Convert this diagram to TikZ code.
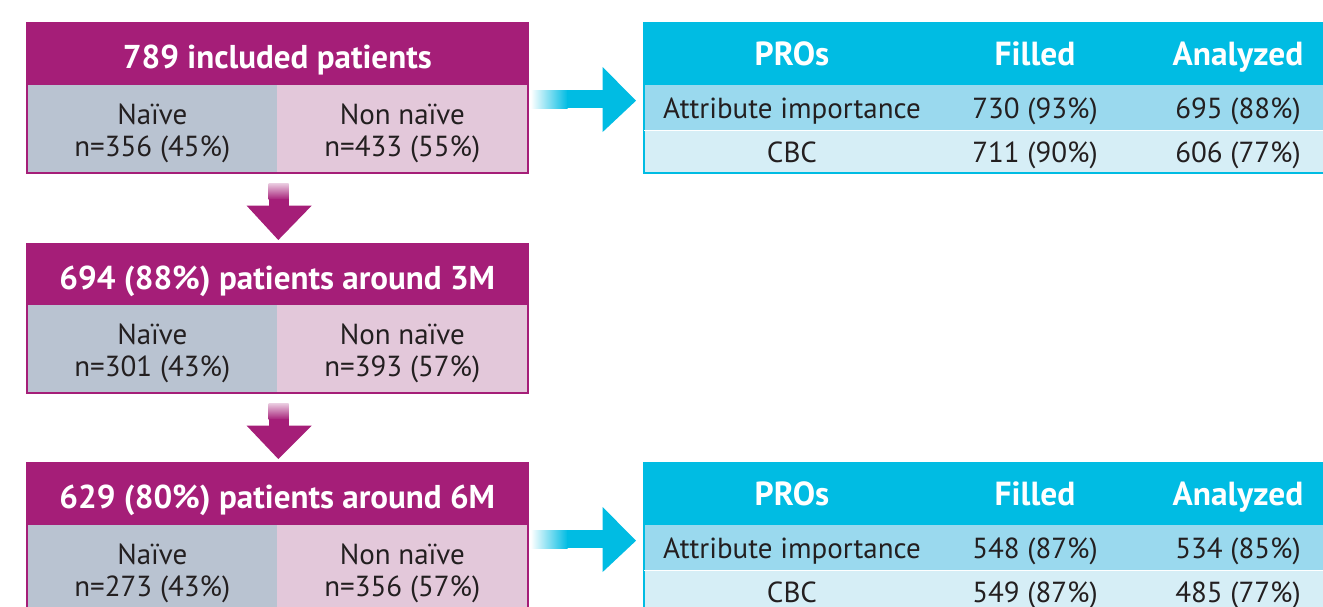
\documentclass[tikz,border=0pt]{standalone}
\usepackage{fontspec}
\setmainfont{PT Sans}
\usetikzlibrary{positioning,calc}

\definecolor{plum}{HTML}{A51E78}
\definecolor{naivecol}{HTML}{B9C3D1}
\definecolor{nonnaivecol}{HTML}{E3C8DA}
\definecolor{cyanhead}{HTML}{00BCE3}
\definecolor{rowone}{HTML}{9AD9EE}
\definecolor{rowtwo}{HTML}{D6EEF6}
\definecolor{inkcol}{HTML}{231F20}

\begin{document}
\begin{tikzpicture}[x=0.02cm,y=-0.02cm,
    headbox/.style={fill=plum, text=white, font=\bfseries\fontsize{18.8}{22}\selectfont,
        minimum width=10cm, minimum height=1.24cm, anchor=north west, inner sep=0pt,
        text height=0.56cm, text depth=0cm},
    cellbox/.style={minimum width=5cm, minimum height=1.74cm, anchor=north west, inner sep=0pt},
    celltext/.style={align=center, text=inkcol, inner sep=0pt, font=\fontsize{16.5}{18.2}\selectfont},
    tabrow/.style={minimum width=13.8cm, anchor=north west, inner sep=0pt},
    tabhead/.style={anchor=base, text=white, font=\bfseries\fontsize{19}{22}\selectfont},
    tabtext/.style={anchor=base, text=inkcol, font=\fontsize{16.5}{19}\selectfont}]

    \clip (0,0) rectangle (1323,606);

    % Patient boxes
    \node[headbox] (h1) at (27,23) {789 included patients};
    \node[cellbox, fill=naivecol] (n1) at (27,85) {};
    \node[cellbox, fill=nonnaivecol] (m1) at (277,85) {};
    \node[celltext] (n1t) at ($(n1)+(0,5)$) {Naïve\\n=356 (45\%)};
    \node[celltext] (m1t) at ($(m1)+(0,5)$) {Non naïve\\n=433 (55\%)};

    \node[headbox] (h2) at (27,244) {694 (88\%) patients around 3M};
    \node[cellbox, fill=naivecol] (n2) at (27,305) {};
    \node[cellbox, fill=nonnaivecol] (m2) at (277,305) {};
    \node[celltext] (n2t) at ($(n2)+(0,5)$) {Naïve\\n=301 (43\%)};
    \node[celltext] (m2t) at ($(m2)+(0,5)$) {Non naïve\\n=393 (57\%)};

    \node[headbox] (h3) at (27,463) {629 (80\%) patients around 6M};
    \node[cellbox, fill=naivecol] (n3) at (27,525) {};
    \node[cellbox, fill=nonnaivecol] (m3) at (277,525) {};
    \node[celltext] (n3t) at ($(n3)+(0,5)$) {Naïve\\n=273 (43\%)};
    \node[celltext] (m3t) at ($(m3)+(0,5)$) {Non naïve\\n=356 (57\%)};

    % Box outlines
    \foreach \h/\m in {h1/m1, h2/m2, h3/m3}{
        \draw[plum, line width=1pt] (\h.north west) rectangle (\m.south east);
    }

    % Down arrows
    \foreach \a/\b in {n1/h2, n2/h3}{
        \shade[top color=plum!25, bottom color=plum] ($(\a.south east)+(-9,11)$) rectangle ($(\a.south east)+(11,27)$);
        \fill[plum] ($(\a.south east)+(-9,26)$) rectangle ($(\a.south east)+(11,34)$);
        \fill[plum] ($(\a.south east)+(-31,33)$) -- ($(\a.south east)+(34,33)$) -- ($(\b.north)+(1,-4)$) -- cycle;
    }

    % PRO tables
    \node[tabrow, fill=cyanhead, minimum height=1.24cm] (t1) at (644,23) {};
    \node[tabrow, fill=rowone, minimum height=0.9cm] (r1) at (644,85) {};
    \node[tabrow, fill=rowtwo, minimum height=0.84cm] (s1) at (644,130) {};

    \node[tabrow, fill=cyanhead, minimum height=1.24cm] (t2) at (644,463) {};
    \node[tabrow, fill=rowone, minimum height=0.9cm] (r2) at (644,525) {};
    \node[tabrow, fill=rowtwo, minimum height=0.84cm] (s2) at (644,570) {};

    \foreach \t/\s in {t1/s1, t2/s2}{
        \draw[cyanhead, line width=1pt] (\t.north west) rectangle (\s.south east);
    }
    \draw[white, line width=0.4pt] (r1.south west) -- (r1.south east);
    \draw[white, line width=0.4pt] (r2.south west) -- (r2.south east);

    % Table texts
    \node[tabhead] (pa) at (792,65) {PROs};
    \node[tabhead] (fa) at (1035,65) {Filled};
    \node[tabhead] (aa) at (1238,65) {Analyzed};
    \node[tabtext] (ia) at (792,118) {Attribute importance};
    \node[tabtext] (ib) at (1035,118) {730 (93\%)};
    \node[tabtext] (ic) at (1238,118) {695 (88\%)};
    \node[tabtext] (ca) at (792,162) {CBC};
    \node[tabtext] (cb) at (1035,162) {711 (90\%)};
    \node[tabtext] (cc) at (1238,162) {606 (77\%)};

    \node[tabhead] (pb) at (792,505) {PROs};
    \node[tabhead] (fb) at (1035,505) {Filled};
    \node[tabhead] (ab) at (1238,505) {Analyzed};
    \node[tabtext] (ja) at (792,558) {Attribute importance};
    \node[tabtext] (jb) at (1035,558) {548 (87\%)};
    \node[tabtext] (jc) at (1238,558) {534 (85\%)};
    \node[tabtext] (da) at (792,602) {CBC};
    \node[tabtext] (db) at (1035,602) {549 (87\%)};
    \node[tabtext] (dc) at (1238,602) {485 (77\%)};

    % Right arrows
    \foreach \m/\t in {m1/t1, m3/t2}{
        \shade[left color=white, right color=cyanhead] ($(\m.north east)+(3,5)$) rectangle ($(\m.north east)+(40,23)$);
        \fill[cyanhead] ($(\m.north east)+(39,5)$) rectangle ($(\m.north east)+(76,23)$);
        \fill[cyanhead] ($(\m.north east)+(75,-18)$) -- ($(\t.south west)+(-8,15)$) -- ($(\m.north east)+(75,47)$) -- cycle;
    }

\end{tikzpicture}
\end{document}
